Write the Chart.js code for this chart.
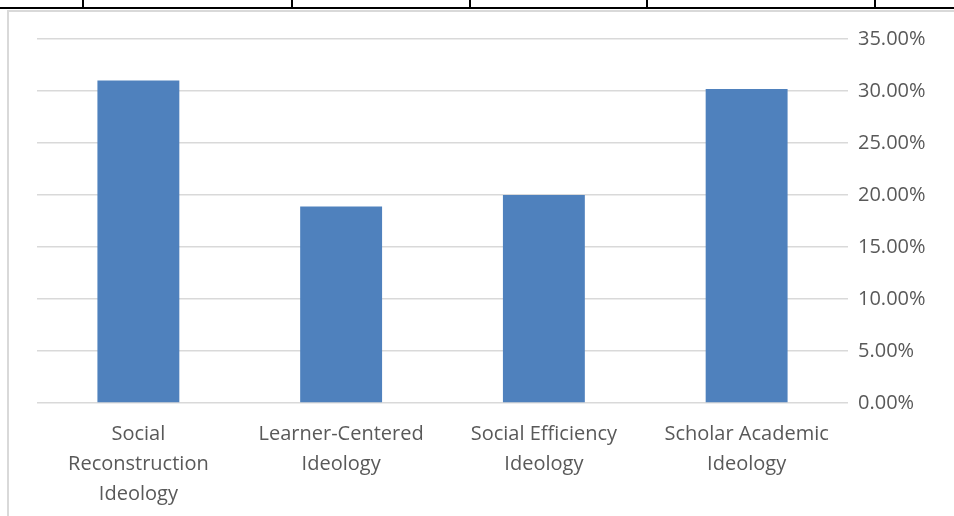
<!DOCTYPE html>
<html>
<head>
<meta charset="utf-8">
<script src="https://cdn.jsdelivr.net/npm/chart.js@4"></script>
<style>
  body { margin: 0; background: #fff; width: 954px; height: 516px; overflow: hidden; position: relative; }
  /* table row above the chart */
  #rowline { position: absolute; left: 0; top: 7px; width: 954px; height: 2px; background: #000; }
  .cell { position: absolute; top: 0; width: 2px; height: 8px; background: #000; }
  #box { position: absolute; left: 7px; top: 10px; width: 947px; height: 506px;
         border-left: 2px solid #d9d9d9; border-top: 2px solid #d9d9d9; box-sizing: border-box; }
  #wrap { position: absolute; left: 9px; top: 12px; width: 945px; height: 504px; }
</style>
</head>
<body>
<div id="rowline"></div>
<div class="cell" style="left:82px"></div>
<div class="cell" style="left:291px"></div>
<div class="cell" style="left:469px"></div>
<div class="cell" style="left:646px"></div>
<div class="cell" style="left:874px"></div>
<div id="box"></div>
<div id="wrap"><canvas id="ideology"></canvas></div>
<script>
// Share of responses per curriculum ideology
var categories = [
  ["Social", "Reconstruction", "Ideology"],
  ["Learner-Centered", "Ideology"],
  ["Social Efficiency", "Ideology"],
  ["Scholar Academic", "Ideology"]
];
var shares = [31.0, 18.9, 20.0, 30.2];
var yTicks = [0, 5, 10, 15, 20, 25, 30, 35];

var ctx = document.getElementById("ideology").getContext("2d");
var chart_ideology = new Chart(ctx, {
  type: "bar",
  data: {
    labels: categories,
    datasets: [{
      data: shares,
      backgroundColor: "#4f81bd",
      categoryPercentage: 1,
      barPercentage: 0.404
    }]
  },
  options: {
    responsive: true,
    maintainAspectRatio: false,
    animation: false,
    layout: {
      padding: { left: 28, top: 27, right: 0, bottom: 0 }
    },
    plugins: {
      legend: { display: false },
      tooltip: { enabled: false }
    },
    scales: {
      x: {
        grid: { display: false, drawTicks: false },
        border: { display: false },
        ticks: {
          color: "#595959",
          padding: 16,
          maxRotation: 0,
          font: { family: "Open Sans", size: 20, lineHeight: 1.5 }
        },
        afterFit: function (scale) { scale.height = 113; }
      },
      y: {
        position: "right",
        min: yTicks[0],
        max: yTicks[yTicks.length - 1],
        afterBuildTicks: function (scale) {
          scale.ticks = yTicks.map(function (v) { return { value: v }; });
        },
        grid: { color: "#d9d9d9", lineWidth: 1.5, drawTicks: false },
        border: { display: false },
        ticks: {
          color: "#595959",
          padding: 10,
          font: { family: "Open Sans", size: 20 },
          callback: function (v) { return v.toFixed(2) + "%"; }
        },
        afterFit: function (scale) { scale.width = 106; }
      }
    }
  }
});
</script>
</body>
</html>
